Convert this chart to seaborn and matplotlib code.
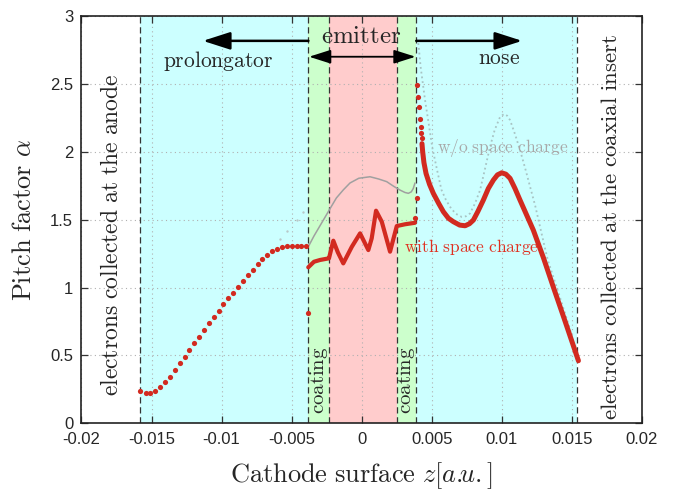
import numpy as np
import pandas as pd
import matplotlib
matplotlib.use("Agg")
import matplotlib.pyplot as plt
import seaborn as sns

# ---- data (x in units of 1e-3) ----
prol_x = [-15.80, -15.40, -15.11, -14.76, -14.40, -14.04, -13.69, -13.33, -12.97, -12.61,
          -12.30, -11.95, -11.61, -11.26, -10.90, -10.57, -10.21, -9.88, -9.52, -9.16,
          -8.85, -8.50, -8.14, -7.78, -7.43, -7.09, -6.73, -6.40, -6.04, -5.69,
          -5.35, -5.00, -4.64, -4.31, -3.95]
prol_y = [0.240, 0.223, 0.223, 0.240, 0.265, 0.302, 0.343, 0.392, 0.442, 0.491,
          0.540, 0.589, 0.638, 0.687, 0.736, 0.780, 0.829, 0.876, 0.920, 0.962,
          1.001, 1.050, 1.090, 1.129, 1.171, 1.207, 1.242, 1.266, 1.284, 1.296,
          1.306, 1.308, 1.308, 1.308, 1.308]

emit_x = [-3.81, -3.40, -2.97, -2.50, -2.33, -2.02, -1.70, -1.31, -0.70, -0.11,
          0.48, 0.72, 1.03, 1.44, 2.03, 2.51, 3.10, 3.81]
emit_y = [1.149, 1.190, 1.203, 1.212, 1.215, 1.345, 1.260, 1.178, 1.300, 1.399,
          1.276, 1.362, 1.566, 1.485, 1.264, 1.453, 1.466, 1.477]

sparse_x = [-3.81, 3.81, 3.92, 3.98, 4.05, 4.10, 4.17, 4.22, 4.26, 4.31]
sparse_y = [0.815, 1.510, 1.657, 2.490, 2.405, 2.327, 2.238, 2.184, 2.135, 2.098]

nose_x = [4.31, 4.36, 4.45, 4.60, 4.85, 5.12, 5.50, 5.84, 6.20, 6.55, 7.00, 7.39, 7.70,
          7.98, 8.30, 8.69, 9.05, 9.41, 9.70, 10.00, 10.30, 10.60, 10.95, 11.31, 11.80,
          12.26, 12.98, 13.70, 14.50, 15.48]
nose_y = [2.060, 2.000, 1.920, 1.840, 1.760, 1.694, 1.620, 1.558, 1.510, 1.485, 1.460,
          1.455, 1.470, 1.497, 1.560, 1.644, 1.730, 1.792, 1.830, 1.845, 1.835, 1.804,
          1.730, 1.644, 1.530, 1.423, 1.220, 1.000, 0.760, 0.461]

wo_emit_x = [-3.81, -3.40, -3.00, -2.60, -2.26, -1.80, -1.30, -0.83, -0.20, 0.60, 1.20,
             1.79, 2.30, 2.74, 3.10, 3.34, 3.55, 3.69, 3.81]
wo_emit_y = [1.300, 1.380, 1.450, 1.520, 1.580, 1.660, 1.720, 1.770, 1.805, 1.816, 1.800,
             1.780, 1.745, 1.718, 1.700, 1.694, 1.705, 1.730, 1.770]

wo_nose_x = [4.05, 4.22, 4.53, 4.80, 5.05, 5.40, 5.70, 6.00, 6.31, 6.70, 7.15, 7.45, 7.74,
             8.10, 8.46, 8.80, 9.17, 9.50, 9.89, 10.17, 10.40, 10.60, 10.95, 11.31, 11.70,
             12.03, 12.40, 12.74, 13.00, 13.30, 14.00, 14.80, 15.40]
wo_nose_y = [2.80, 2.62, 2.38, 2.20, 2.03, 1.86, 1.72, 1.65, 1.595, 1.545, 1.52, 1.525,
             1.546, 1.62, 1.718, 1.87, 2.037, 2.16, 2.258, 2.278, 2.265, 2.233, 2.13,
             2.013, 1.87, 1.742, 1.60, 1.448, 1.33, 1.20, 0.98, 0.72, 0.49]

wo_prol_x = [-6.42, -5.83, -5.35, -4.64, -4.20]
wo_prol_y = [1.28, 1.36, 1.42, 1.50, 1.56]

bounds = [-15.8, -3.8, -2.3, 2.5, 3.9, 15.4]
band_colors = ["#ccffff", "#ccffcc", "#ffcccc", "#ccffcc", "#ccffff"]

xticks = [-0.02, -0.015, -0.01, -0.005, 0, 0.005, 0.01, 0.015, 0.02]
xticklabels = ["-0.02", "-0.015", "-0.01", "-0.005", "0", "0.005", "0.01", "0.015", "0.02"]
yticks = [0, 0.5, 1, 1.5, 2, 2.5, 3]
yticklabels = ["0", "0.5", "1", "1.5", "2", "2.5", "3"]

s = 1e-3
sns.set_theme(style="ticks")
plt.rcParams["font.family"] = ["Liberation Sans", "DejaVu Sans"]
plt.rcParams["mathtext.fontset"] = "cm"

fig = plt.figure(figsize=(6.78, 4.94), dpi=100)
ax = fig.add_axes([0.1202, 0.1431, 0.8263, 0.8245])
ax.set_xlim(-0.02, 0.02)
ax.set_ylim(0, 3)

for i, c in enumerate(band_colors):
    ax.axvspan(bounds[i] * s, bounds[i + 1] * s, color=c, zorder=0, lw=0)
for b in bounds:
    ax.axvline(b * s, color="#333333", ls=(0, (5, 3)), lw=0.9, zorder=1)

ax.grid(True, ls=(0, (1, 3)), color="#b0b0b0", lw=0.8, zorder=0.5)
ax.set_axisbelow(True)

red = "#d22a20"
gray = "#a0a0a0"
df = lambda x, y: pd.DataFrame({"x": np.array(x) * s, "y": y})

sns.lineplot(data=df(wo_emit_x, wo_emit_y), x="x", y="y", ax=ax, color=gray, lw=1.1,
             sort=False, estimator=None, zorder=2)
sns.lineplot(data=df(wo_nose_x, wo_nose_y), x="x", y="y", ax=ax, color="#a8c4c4", lw=1.3,
             ls=":", sort=False, estimator=None, zorder=2)
sns.scatterplot(data=df(wo_prol_x, wo_prol_y), x="x", y="y", ax=ax, color="#b8c8c8",
                s=3, linewidth=0, zorder=2)

sns.scatterplot(data=df(prol_x, prol_y), x="x", y="y", ax=ax, color=red, s=14,
                linewidth=0, zorder=3)
sns.lineplot(data=df(emit_x, emit_y), x="x", y="y", ax=ax, color=red, lw=3.0,
             sort=False, estimator=None, zorder=3)
sns.scatterplot(data=df(sparse_x, sparse_y), x="x", y="y", ax=ax, color=red, s=14,
                linewidth=0, zorder=3)
sns.lineplot(data=df(nose_x, nose_y), x="x", y="y", ax=ax, color=red, lw=3.6,
             sort=False, estimator=None, zorder=3)

ax.set_xticks(xticks)
ax.set_xticklabels(xticklabels)
ax.set_yticks(yticks)
ax.set_yticklabels(yticklabels)
ax.tick_params(direction="in", length=5, width=0.9, labelsize=12, top=True, right=True,
               color="#333333", pad=6)
for sp in ax.spines.values():
    sp.set_linewidth(1.2)
    sp.set_color("#222222")
    sp.set_visible(True)

ax.set_xlabel(r"$\mathrm{Cathode\ surface}\ z[a.\!\!u.]$", fontsize=19, labelpad=10)
ax.set_ylabel(r"$\mathrm{Pitch\ factor}\ \alpha$", fontsize=19, labelpad=10)

# arrows
ax.annotate("", xy=(-11.33 * s, 2.817), xytext=(-3.8 * s, 2.817),
            arrowprops=dict(arrowstyle="-|>,head_length=1.4,head_width=0.45", lw=1.8,
                            color="black", shrinkA=0, shrinkB=0))
ax.annotate("", xy=(11.46 * s, 2.817), xytext=(3.9 * s, 2.817),
            arrowprops=dict(arrowstyle="-|>,head_length=1.4,head_width=0.45", lw=1.8,
                            color="black", shrinkA=0, shrinkB=0))
ax.annotate("", xy=(-3.75 * s, 2.70), xytext=(3.85 * s, 2.70),
            arrowprops=dict(arrowstyle="<|-|>,head_length=1.1,head_width=0.35", lw=1.3,
                            color="black", shrinkA=0, shrinkB=0))

ax.text(0.0, 2.85, r"$\mathrm{emitter}$", fontsize=18, ha="center", va="center")
ax.text(-10.26 * s, 2.67, r"$\mathrm{prolongator}$", fontsize=15.5, ha="center", va="center")
ax.text(9.81 * s, 2.69, r"$\mathrm{nose}$", fontsize=15.5, ha="center", va="center")

ax.text(-17.8 * s, 1.39, r"$\mathrm{electrons\ collected\ at\ the\ anode}$", fontsize=17,
        rotation=90, ha="center", va="center")
ax.text(17.8 * s, 1.45, r"$\mathrm{electrons\ collected\ at\ the\ coaxial\ insert}$",
        fontsize=16.5, rotation=90, ha="center", va="center")
ax.text(-3.05 * s, 0.32, r"$\mathrm{coating}$", fontsize=15, rotation=90,
        ha="center", va="center")
ax.text(3.2 * s, 0.32, r"$\mathrm{coating}$", fontsize=15, rotation=90,
        ha="center", va="center")

ax.text(5.4 * s, 2.03, r"$\mathrm{w/o\ space\ charge}$", fontsize=12.5, color="#a8a8a8",
        ha="left", va="center")
ax.text(3.05 * s, 1.30, r"$\mathrm{with\ space\ charge}$", fontsize=12.5, color="#e03020",
        ha="left", va="center")

fig.savefig("out.png", dpi=100)
